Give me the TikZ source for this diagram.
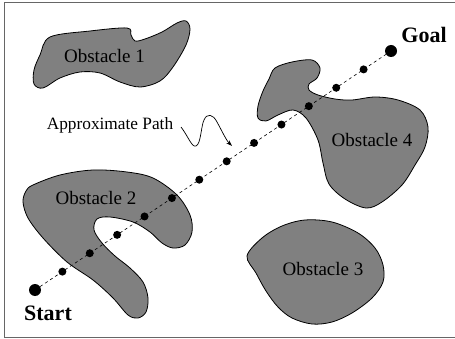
\documentclass[tikz,border=0pt]{standalone}
\usepackage{fontspec}
\setmainfont{Liberation Serif}
\usetikzlibrary{arrows.meta,calc}
\tikzset{
  obst/.style={draw=black, line width=0.8pt, fill=black!50},
  lbl/.style={font=\fontsize{19}{21}\selectfont, anchor=base, inner sep=0pt},
  endlbl/.style={font=\fontsize{22}{24}\selectfont\bfseries, anchor=base, inner sep=0pt},
  bigdot/.style={circle, fill=black, minimum size=12pt, inner sep=0pt},
  smalldot/.style={circle, fill=black, minimum size=8pt, inner sep=0pt},
  frameline/.style={draw=black!60, line width=1pt}
}
\begin{document}
\begin{tikzpicture}[x=1pt,y=-1pt]
\useasboundingbox (0,0) rectangle (455,339);
% frame
\draw[frameline] (456,3) -- (4,3) -- (4,337) -- (456,337);
% Obstacle 1
\filldraw[obst] plot[smooth cycle, tension=0.55] coordinates {
 (50,37) (90,31) (127,28) (131,35) (135,41) (145,39) (162,32) (177,23) (186,21) (190,29)
 (186,45) (173,67) (160,81) (140,87) (120,82) (100,73) (80,72) (60,78) (43,88) (34,84)
 (34,70) (40,55) };
% Obstacle 4
\filldraw[obst] plot[smooth cycle, tension=0.55] coordinates {
 (275,68) (292,62) (312,60) (320,68) (317,78) (309,84) (309,90) (318,95) (335,99) (352,100)
 (375,97) (398,100) (420,110) (428,127) (425,147) (415,165) (402,185) (382,202) (366,208)
 (345,199) (329,184) (323,163) (318,140) (306,118) (293,110) (278,115) (266,121) (258,118)
 (258,106) (263,91) (269,79) };
% Obstacle 2
\filldraw[obst] plot[smooth cycle, tension=0.55] coordinates {
 (33,185) (60,175) (93,170) (127,172) (153,178) (177,195) (190,215) (192,232) (185,245)
 (173,248) (162,243) (150,232) (133,222) (110,217) (97,219) (94,230) (102,243) (115,256)
 (130,268) (143,282) (148,298) (146,312) (138,318) (128,315) (113,298) (93,280) (67,262)
 (43,238) (28,218) (23,202) (26,191) };
% Obstacle 3
\filldraw[obst] plot[smooth cycle, tension=0.55] coordinates {
 (247,256) (262,238) (282,226) (305,220) (332,222) (358,233) (375,248) (383,265) (383,282)
 (372,298) (352,313) (332,322) (312,324) (292,318) (278,307) (266,291) (256,273) };
% labels
\node[lbl] (o1) at (104.5,63) {Obstacle 1};
\node[lbl] (o2) at (96,205) {Obstacle 2};
\node[lbl] (o3) at (323,275) {Obstacle 3};
\node[lbl] (o4) at (372,147) {Obstacle 4};
\node[lbl, font=\fontsize{17.3}{20}\selectfont] (ap) at (110,130) {Approximate Path};
% path
\node[bigdot] (start) at (35,290) {};
\node[bigdot] (goal) at (391,51) {};
\draw[dashed, dash pattern=on 3pt off 3pt, line width=0.6pt] (start) -- (goal);
\foreach \k in {1,...,12} {
  \node[smalldot] (d\k) at ($(start)!\k/13!(goal)$) {};
}
\node[endlbl] (st) at (48,320) {Start};
\node[endlbl] (gl) at (424,43) {Goal};
% squiggle arrow
\coordinate (sq0) at (181,127);
\coordinate (sq1) at (232,146);
\draw[line width=0.7pt, -{Stealth[length=6pt,width=4pt]}] (sq0)
  .. controls (188,136) and (192,148) .. (196,146)
  .. controls (201,144) and (201,126) .. (204,120)
  .. controls (207,113) and (213,114) .. (217,122)
  .. controls (222,131) and (226,140) .. (sq1);
\end{tikzpicture}
\end{document}
